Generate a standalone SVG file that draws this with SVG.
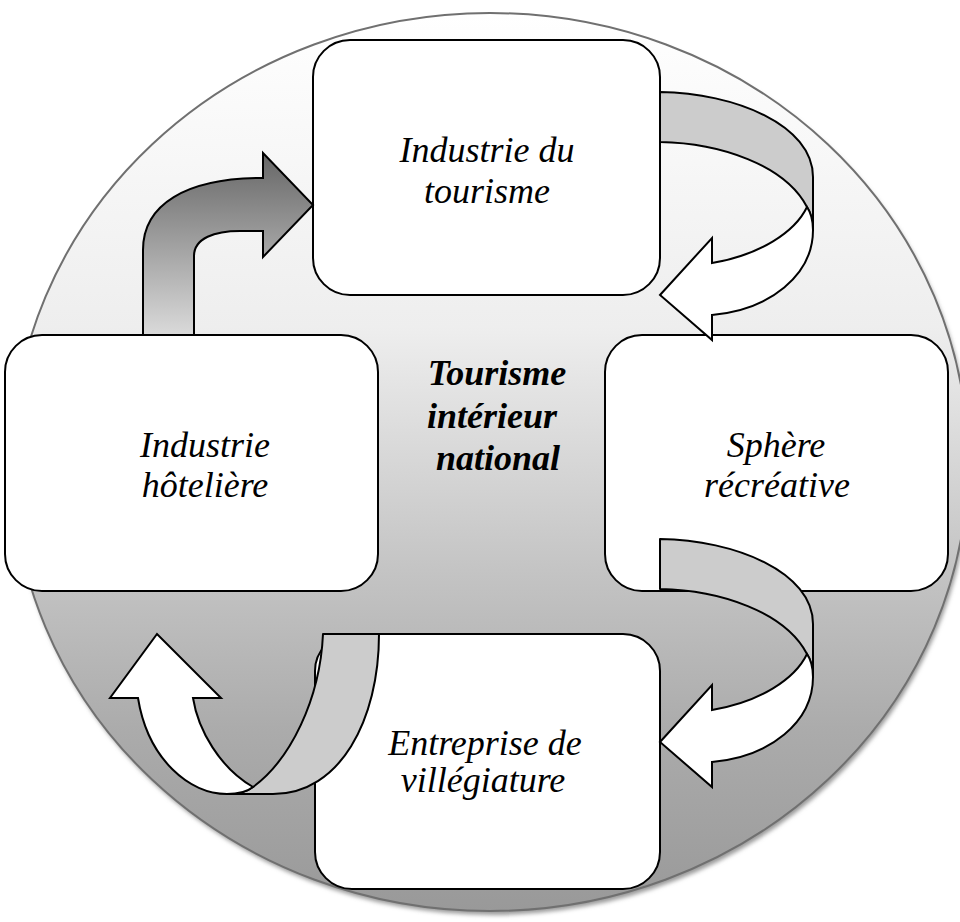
<svg xmlns="http://www.w3.org/2000/svg" width="960" height="922" viewBox="0 0 960 922">
<defs>
<linearGradient id="bg" x1="0" y1="0" x2="0" y2="1">
<stop offset="0" stop-color="#ffffff"/>
<stop offset="0.35" stop-color="#eeeeee"/>
<stop offset="0.62" stop-color="#c4c4c4"/>
<stop offset="0.8" stop-color="#ababab"/>
<stop offset="1" stop-color="#999999"/>
</linearGradient>
<linearGradient id="bent" gradientUnits="userSpaceOnUse" x1="0" y1="153" x2="0" y2="335">
<stop offset="0" stop-color="#666666"/>
<stop offset="1" stop-color="#dadada"/>
</linearGradient>
<filter id="sh" x="-5%" y="-5%" width="110%" height="112%">
<feGaussianBlur stdDeviation="2"/>
</filter>
</defs>
<style>
.box{fill:#ffffff;stroke:#000;stroke-width:2}
.lbl{font-family:"Liberation Serif","Times New Roman",serif;font-style:italic;font-size:36px;fill:#000;text-anchor:middle}
.ctr{font-weight:bold}
.band{fill:#cccccc;stroke:#000;stroke-width:2;stroke-linejoin:round}
.wa{fill:#ffffff;stroke:#000;stroke-width:2;stroke-linejoin:miter}
</style>
<g id="background">
<ellipse cx="492" cy="466" rx="478" ry="449" fill="#9a9a9a" filter="url(#sh)"/>
<ellipse cx="490" cy="462" rx="478" ry="449" fill="url(#bg)" stroke="#707070" stroke-width="2"/>
</g>
<g id="center">
<text class="lbl ctr" x="497" y="385">Tourisme</text>
<text class="lbl ctr" x="492" y="428">intérieur</text>
<text class="lbl ctr" x="498" y="470">national</text>
</g>
<g id="node-top">
<rect class="box" x="313" y="40" width="347" height="255" rx="37"/>
<text class="lbl" x="487" y="162">Industrie du</text>
<text class="lbl" x="487" y="203">tourisme</text>
</g>
<g id="node-left">
<rect class="box" x="5" y="335" width="373" height="256" rx="37"/>
<text class="lbl" x="205" y="457">Industrie</text>
<text class="lbl" x="205" y="497">hôtelière</text>
</g>
<g id="node-right">
<rect class="box" x="605" y="335" width="343" height="256" rx="37"/>
<text class="lbl" x="776" y="457">Sphère</text>
<text class="lbl" x="777" y="497">récréative</text>
</g>
<g id="node-bottom">
<rect class="box" x="315" y="634" width="345" height="255" rx="37"/>
<text class="lbl" x="485" y="755">Entreprise de</text>
<text class="lbl" x="483" y="792">villégiature</text>
</g>
<g id="connectors">
<path fill="url(#bent)" stroke="#000" stroke-width="2" stroke-linejoin="miter" d="M143,335 L143,250 C143,205 185,178 263,178 L263,153 L313,205 L263,257 L263,231 L240,231 C215,231 194,238 194,256 L194,335 Z"/>
<g id="arrow-top-right">
<path class="band" d="M660,92 C735,93 813,125 813,177 L813,230 C813,220 811,213 807,207 C785,165 720,143 660,142 Z"/>
<path class="wa" d="M807,207 C811,213 813,220 813,230 C813,275 770,310 712,315 L712,340 L660,295 L712,238 L712,263 C760,255 795,232 807,207 Z"/>
</g>
<g id="arrow-mid-right" transform="translate(0,447)">
<path class="band" d="M660,92 C735,93 813,125 813,177 L813,230 C813,220 811,213 807,207 C785,165 720,143 660,142 Z"/>
<path class="wa" d="M807,207 C811,213 813,220 813,230 C813,275 770,310 712,315 L712,340 L660,295 L712,238 L712,263 C760,255 795,232 807,207 Z"/>
</g>
<g id="arrow-bottom-left">
<path class="band" d="M323,634 L379,634 C379,720 340,794 273,794 L227,794 C240,794 248,791 253,787 C290,760 320,700 323,634 Z"/>
<path class="wa" d="M227,794 C190,794 148,760 138,698 L110,698 L157,634 L221,698 L193,698 C198,730 220,768 253,787 C248,791 240,794 227,794 Z"/>
</g>
</g>
</svg>
